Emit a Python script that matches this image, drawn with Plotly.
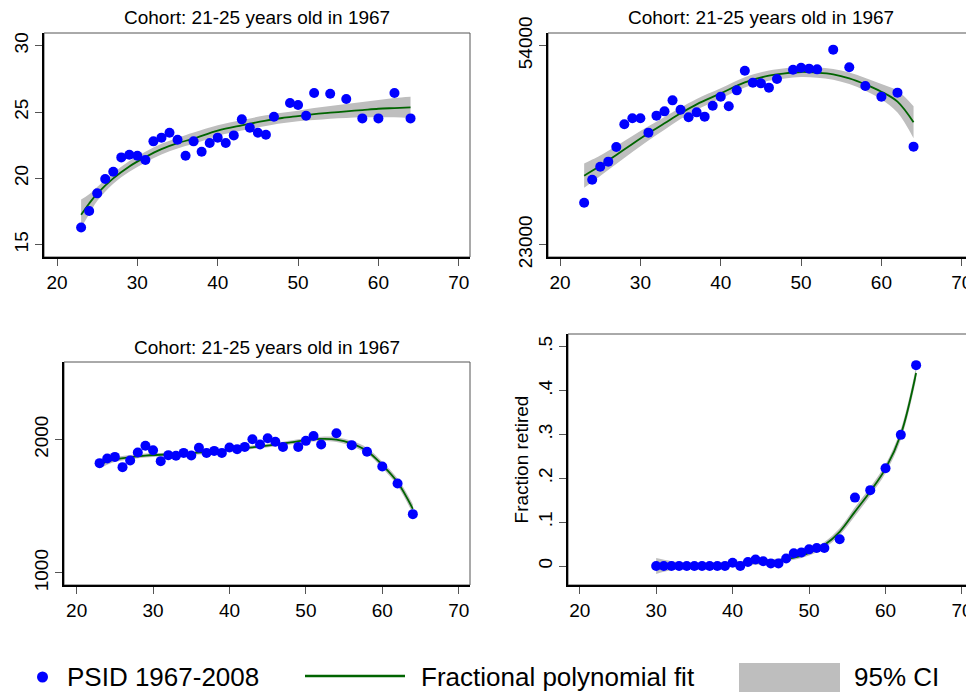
import plotly.graph_objects as go

# The page body has an 8px margin, so the figure is sized to fit the 974x692 window.
OFF = 8
W, H = 974 - OFF, 692 - OFF

# ---------------- data ----------------
ages_main = [23, 24, 25, 26, 27, 28, 29, 30, 31, 32, 33, 34, 35, 36, 37, 38, 39, 40, 41,
             42, 43, 44, 45, 46, 47, 49, 50, 51, 52, 54, 56, 58, 60, 62, 64]

p1_vals = [16.3, 17.54, 18.87, 19.95, 20.5, 21.58, 21.78, 21.7, 21.38, 22.79, 23.07, 23.44,
           22.91, 21.7, 22.79, 22.01, 22.66, 23.07, 22.66, 23.24, 24.45, 23.82, 23.44, 23.29,
           24.65, 25.68, 25.53, 24.72, 26.43, 26.38, 25.98, 24.52, 24.52, 26.43, 24.52]

p2_vals = [29540, 33120, 35150, 35930, 38210, 41750, 42680, 42680, 40450, 43100, 43770, 45480,
           44030, 42840, 43610, 42940, 44650, 46060, 44550, 47040, 50100, 48240, 48130, 47460,
           48810, 50260, 50570, 50420, 50310, 53380, 50630, 47720, 46060, 46680, 38270]

p3_vals = [1823, 1858, 1870, 1793, 1843, 1903, 1953, 1920, 1838, 1883, 1878, 1900, 1880, 1938,
           1900, 1915, 1900, 1940, 1928, 1945, 2002, 1963, 2010, 1983, 1945, 1945, 1990, 2027,
           1963, 2047, 1958, 1908, 1798, 1671, 1441]

ages_ret = [30, 31, 32, 33, 34, 35, 36, 37, 38, 39, 40, 41, 42, 43, 44, 45, 46, 47, 48, 49,
            50, 51, 52, 54, 56, 58, 60, 62, 64]
p4_vals = [0.0, 0.0, 0.0, 0.0, 0.0, 0.0, 0.0, 0.0, 0.0, 0.0, 0.0076, 0.0, 0.009, 0.015, 0.011,
           0.006, 0.006, 0.017, 0.029, 0.031, 0.038, 0.041, 0.041, 0.061, 0.156, 0.173, 0.223,
           0.299, 0.458]

# fitted curves
fit_ages = [23, 24, 25, 27, 29, 31, 33, 35, 37, 40, 43, 46, 48, 50, 52, 54, 56, 58, 60, 62, 64]

p1_fit = [17.25, 18.1, 18.85, 20.0, 20.9, 21.6, 22.2, 22.65, 23.0, 23.6, 24.0, 24.35, 24.55,
          24.7, 24.85, 24.95, 25.05, 25.15, 25.25, 25.3, 25.35]
p1_hi = [18.4, 18.8, 19.35, 20.4, 21.3, 22.0, 22.6, 23.05, 23.45, 24.0, 24.4, 24.75, 24.95,
         25.1, 25.3, 25.45, 25.6, 25.75, 25.9, 26.05, 26.15]
p1_lo = [16.3, 17.3, 18.3, 19.6, 20.5, 21.2, 21.8, 22.25, 22.6, 23.2, 23.6, 23.95, 24.15,
         24.3, 24.4, 24.5, 24.55, 24.6, 24.6, 24.6, 24.55]

p2_fit = [33750, 34500, 35300, 36970, 38680, 40340, 41900, 43460, 44860, 46570, 48290, 49330,
          49690, 49900, 49800, 49530, 48910, 47980, 46830, 45280, 42060]
p2_hi = [35650, 36250, 36900, 38370, 39930, 41440, 42900, 44360, 45710, 47370, 49090, 50130,
         50490, 50700, 50600, 50380, 49810, 48980, 48030, 46980, 44560]
p2_lo = [31850, 32750, 33700, 35570, 37430, 39240, 40900, 42560, 44010, 45770, 47490, 48530,
         48890, 49100, 49000, 48680, 48010, 46980, 45630, 43580, 39560]

p3_fit = [1815, 1835, 1850, 1868, 1880, 1886, 1892, 1898, 1905, 1922, 1942, 1962, 1978, 1995,
          2005, 2000, 1970, 1915, 1810, 1680, 1480]
p3_hi = [1845, 1858, 1868, 1884, 1895, 1900, 1905, 1911, 1918, 1935, 1955, 1976, 1993, 2010,
         2021, 2018, 1990, 1937, 1834, 1708, 1515]
p3_lo = [1785, 1812, 1832, 1852, 1865, 1872, 1879, 1885, 1892, 1909, 1929, 1948, 1963, 1980,
         1989, 1982, 1950, 1893, 1786, 1652, 1445]

fit_ages_ret = [30, 32, 34, 36, 38, 40, 42, 44, 46, 48, 50, 52, 54, 56, 58, 60, 62, 64]
p4_fit = [0.0, 0.001, 0.002, 0.003, 0.004, 0.006, 0.007, 0.009, 0.012, 0.019, 0.03, 0.048,
          0.078, 0.124, 0.17, 0.222, 0.3, 0.44]
p4_hi = [0.018, 0.011, 0.008, 0.008, 0.009, 0.011, 0.012, 0.014, 0.017, 0.024, 0.036, 0.055,
         0.086, 0.134, 0.18, 0.232, 0.312, 0.455]
p4_lo = [-0.018, -0.009, -0.004, -0.002, -0.001, 0.001, 0.002, 0.004, 0.007, 0.014, 0.024,
         0.041, 0.07, 0.114, 0.16, 0.212, 0.288, 0.425]

titles = ["Cohort: 21-25 years old in 1967"] * 3
legend_labels = ["PSID 1967-2008", "Fractional polynomial fit", "95% CI"]
x_ticks = [20, 30, 40, 50, 60, 70]

# ---------------- styling ----------------
BLUE = "#0000FF"
GREEN = "#006400"
GRAY = "#BEBEBE"
FONT = "Arial, Liberation Sans, Helvetica, sans-serif"


def px_x(p):
    return (p - OFF) / W


def px_y(p):
    return 1 - (p - OFF) / H


# panel domains in window pixels: (left, right, top, bottom)
boxes = [(44, 470, 33, 257), (548, 973, 33, 257), (64, 470, 362, 585), (568, 973, 334, 585)]

fig = go.Figure()

panels = [
    (ages_main, p1_vals, fit_ages, p1_fit, p1_lo, p1_hi),
    (ages_main, p2_vals, fit_ages, p2_fit, p2_lo, p2_hi),
    (ages_main, p3_vals, fit_ages, p3_fit, p3_lo, p3_hi),
    (ages_ret, p4_vals, fit_ages_ret, p4_fit, p4_lo, p4_hi),
]

for i, (xa, ya, fx, fy, flo, fhi) in enumerate(panels):
    sfx = "" if i == 0 else str(i + 1)
    xr, yr = "x" + sfx, "y" + sfx
    fig.add_trace(go.Scatter(x=fx, y=fhi, mode="lines", line=dict(width=0, shape="spline"),
                             xaxis=xr, yaxis=yr, showlegend=False, hoverinfo="skip"))
    fig.add_trace(go.Scatter(x=fx, y=flo, mode="lines", line=dict(width=0, shape="spline"),
                             fill="tonexty", fillcolor=GRAY,
                             xaxis=xr, yaxis=yr, showlegend=False, hoverinfo="skip"))
    fig.add_trace(go.Scatter(x=fx, y=fy, mode="lines",
                             line=dict(color=GREEN, width=1.8, shape="spline"),
                             xaxis=xr, yaxis=yr, showlegend=False))
    fig.add_trace(go.Scatter(x=xa, y=ya, mode="markers",
                             marker=dict(color=BLUE, size=10, line=dict(width=0)),
                             xaxis=xr, yaxis=yr, showlegend=False))

yranges = [[14.07, 30.96], [21079, 55973], [910, 2581], [-0.0433, 0.529]]
xranges = [[18.38, 71.4], [18.5, 71.4], [18.34, 71.48], [18.47, 71.44]]
yticks = [
    ([15, 20, 25, 30], ["15", "20", "25", "30"]),
    ([23000, 54000], ["23000", "54000"]),
    ([1000, 2000], ["1000", "2000"]),
    ([0, 0.1, 0.2, 0.3, 0.4, 0.5], ["0", ".1", ".2", ".3", ".4", ".5"]),
]

layout = dict(width=W, height=H, margin=dict(l=0, r=0, t=0, b=0, autoexpand=False),
              paper_bgcolor="white", plot_bgcolor="white",
              font=dict(family=FONT, color="black", size=19), showlegend=False)

shapes = []
annotations = []
for i, (l, r, t, b) in enumerate(boxes):
    sfx = "" if i == 0 else str(i + 1)
    ax = dict(domain=[px_x(l), min(1.0, px_x(r))], range=xranges[i], tickvals=x_ticks,
              ticks="outside", ticklen=7, tickcolor="#555", tickwidth=1.2,
              showline=True, linecolor="black", linewidth=1.5, showgrid=False,
              zeroline=False, tickfont=dict(size=19, family=FONT, color="black"),
              anchor="y" + sfx, fixedrange=True, automargin=False)
    ay = dict(domain=[px_y(b), px_y(t)], range=yranges[i], tickvals=yticks[i][0],
              ticktext=yticks[i][1], tickangle=-90,
              ticks="outside", ticklen=7, tickcolor="#555", tickwidth=1.2,
              showline=True, linecolor="black", linewidth=1.5, showgrid=False,
              zeroline=False, tickfont=dict(size=19, family=FONT, color="black"),
              anchor="x" + sfx, fixedrange=True, automargin=False)
    if i == 3:
        ay["title"] = dict(text="Fraction retired", font=dict(size=19, family=FONT), standoff=1)
    layout["xaxis" + sfx] = ax
    layout["yaxis" + sfx] = ay
    shapes.append(dict(type="rect", xref="x" + sfx + " domain", yref="y" + sfx + " domain",
                       x0=0, x1=1, y0=0, y1=1, line=dict(color="#555", width=1),
                       layer="below"))
    if i < 3:
        annotations.append(dict(text=titles[i], xref="paper", yref="paper",
                                x=px_x((l + r) / 2), y=px_y(t - 15), xanchor="center",
                                yanchor="middle", showarrow=False,
                                font=dict(size=19, family=FONT, color="black")))

# legend (manual, at bottom)
ly = 677
shapes.append(dict(type="circle", xref="paper", yref="paper",
                   x0=px_x(37), x1=px_x(48), y0=px_y(ly + 5.5), y1=px_y(ly - 5.5),
                   fillcolor=BLUE, line=dict(width=0)))
shapes.append(dict(type="line", xref="paper", yref="paper",
                   x0=px_x(305), x1=px_x(405), y0=px_y(ly - 1), y1=px_y(ly - 1),
                   line=dict(color=GREEN, width=2.5)))
shapes.append(dict(type="rect", xref="paper", yref="paper",
                   x0=px_x(739), x1=px_x(840), y0=px_y(692), y1=px_y(663),
                   fillcolor=GRAY, line=dict(width=0)))
for txt, xl in zip(legend_labels, [65, 419, 852]):
    annotations.append(dict(text=txt, xref="paper", yref="paper", x=px_x(xl), y=px_y(ly),
                            xanchor="left", yanchor="middle", showarrow=False,
                            font=dict(size=26, family=FONT, color="black")))

layout["shapes"] = shapes
layout["annotations"] = annotations
fig.update_layout(**layout)
fig.write_html("out.html")
